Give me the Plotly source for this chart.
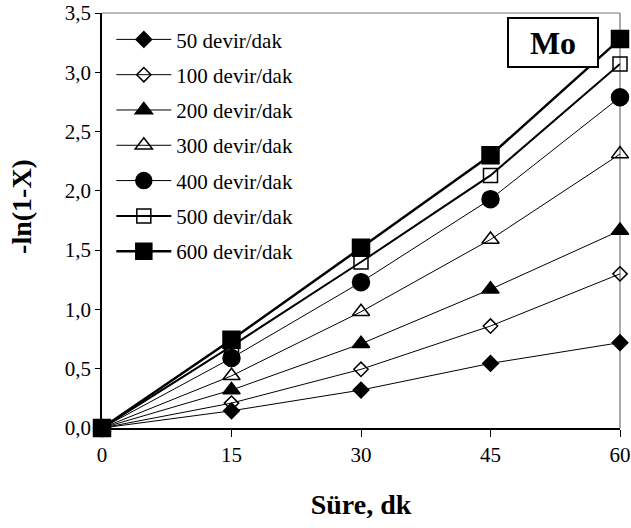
import plotly.graph_objects as go

time_min = [0, 15, 30, 45, 60]
series_names = ["50 devir/dak", "100 devir/dak", "200 devir/dak", "300 devir/dak",
                "400 devir/dak", "500 devir/dak", "600 devir/dak"]
v50 = [0, 0.145, 0.32, 0.545, 0.72]
v100 = [0, 0.21, 0.495, 0.86, 1.30]
v200 = [0, 0.32, 0.71, 1.17, 1.665]
v300 = [0, 0.44, 0.98, 1.59, 2.31]
v400 = [0, 0.59, 1.23, 1.93, 2.79]
v500 = [0, 0.69, 1.40, 2.13, 3.07]
v600 = [0, 0.745, 1.52, 2.30, 3.28]
all_values = [v50, v100, v200, v300, v400, v500, v600]

x_ticks = [0, 15, 30, 45, 60]
y_ticks = [0, 0.5, 1.0, 1.5, 2.0, 2.5, 3.0, 3.5]
y_tick_labels = ["0,0", "0,5", "1,0", "1,5", "2,0", "2,5", "3,0", "3,5"]

symbols = ["diamond", "diamond-open", "triangle-up", "triangle-up-open",
           "circle", "square-open", "square"]
sizes = [12, 11, 15, 15, 17, 14, 17]
widths = [1, 1, 1, 1, 1, 2, 2.5]

FONT = "Liberation Serif, Times New Roman, serif"

fig = go.Figure()
for i, (name, vals, sym, sz, w) in enumerate(zip(series_names, all_values, symbols, sizes, widths)):
    fig.add_trace(go.Scatter(
        x=time_min, y=vals, name=name, mode="lines+markers",
        legendgroup=f"g{i}",
        line=dict(color="black", width=w),
        marker=dict(symbol=sym, size=sz, color="black",
                    line=dict(color="black", width=1.5)),
        cliponaxis=False,
    ))

fig.update_layout(
    width=631, height=528,
    margin=dict(l=102, r=11, t=13, b=100, autoexpand=False),
    paper_bgcolor="white", plot_bgcolor="white",
    font=dict(family=FONT, size=21, color="black"),
    showlegend=True,
    legend=dict(x=0.018, y=0.985, xanchor="left", yanchor="top",
                bgcolor="rgba(0,0,0,0)", font=dict(size=21, family=FONT),
                itemwidth=55, tracegroupgap=5),
    xaxis=dict(range=[0, 60], tickvals=x_ticks, ticktext=[str(t) for t in x_ticks],
               ticks="outside", ticklen=7, tickcolor="black", automargin=False,
               ticklabeloverflow="allow",
               showline=True, linecolor="black", linewidth=1.5,
               showgrid=False, zeroline=False,
               title=dict(text="<b>Süre, dk</b>", font=dict(size=28, family=FONT), standoff=28)),
    yaxis=dict(range=[0, 3.5], tickvals=y_ticks, ticktext=y_tick_labels,
               ticks="outside", ticklen=5, tickcolor="black", automargin=False,
               ticklabeloverflow="allow",
               showline=True, linecolor="black", linewidth=1.5,
               showgrid=False, zeroline=False,
               title=dict(text="&nbsp;&nbsp;&nbsp;&nbsp;<b>-ln(1-X)</b>",
                          font=dict(size=28, family=FONT), standoff=25)),
    shapes=[
        dict(type="line", xref="paper", yref="paper", x0=0, x1=1, y0=1, y1=1,
             line=dict(color="#777777", width=1), layer="below"),
        dict(type="line", xref="paper", yref="paper", x0=1, x1=1, y0=0, y1=1,
             line=dict(color="#555555", width=1), layer="below"),
    ],
    annotations=[dict(
        text="<b>Mo</b>", xref="paper", yref="paper", x=0.87, y=0.928,
        xanchor="center", yanchor="middle", showarrow=False,
        font=dict(size=32, family=FONT, color="black"),
        bordercolor="black", borderwidth=2, borderpad=0, bgcolor="white",
        width=88, height=47,
    )],
)

# remove the browser's default 8px body margin so the figure sits at the page origin
fig.write_html("out.html", config={"displayModeBar": False},
               post_script="document.body.style.margin='0';")
